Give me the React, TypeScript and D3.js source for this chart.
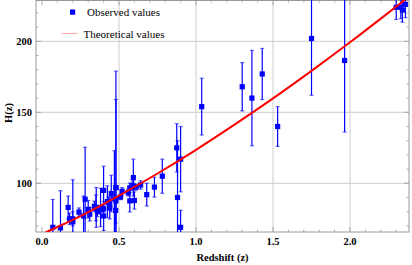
import React from "react";
import * as d3 from "d3";

// Observed H(z) data: redshift, value, error
const zObs = [0.07, 0.12, 0.17, 0.179, 0.199, 0.2, 0.27, 0.28, 0.352, 0.3802, 0.4, 0.4004, 0.4247, 0.4497, 0.47, 0.4783, 0.48, 0.48, 0.593, 0.68, 0.781, 0.875, 0.88, 0.9, 0.9, 1.037, 1.3, 1.363, 1.43, 1.53, 1.75, 1.965,
  0.24, 0.30, 0.31, 0.34, 0.35, 0.36, 0.38, 0.40, 0.43, 0.44, 0.44, 0.48, 0.51, 0.52, 0.56, 0.57, 0.57, 0.59, 0.60, 0.61, 0.64, 0.73, 2.30, 2.33, 2.34, 2.36];
const hObs = [69.0, 68.6, 83, 75, 75, 72.9, 77, 88.8, 83, 83, 95, 77, 87.1, 92.8, 89, 80.9, 97, 97, 104, 92, 105, 125, 90, 117, 69, 154, 168, 160, 177, 140, 202, 186.5,
  79.69, 81.7, 78.18, 83.8, 82.7, 79.94, 81.5, 82.04, 86.45, 82.6, 84.81, 87.79, 90.4, 94.35, 93.34, 87.6, 96.8, 98.48, 87.9, 97.3, 98.82, 97.3, 224, 224, 222, 226];
const errObs = [19.6, 26.2, 8, 4, 5, 29.6, 14, 36.6, 14, 13.5, 17, 10.2, 11.2, 12.9, 34, 9, 62, 82, 13, 8, 12, 17, 40, 23, 12, 20, 17, 33.6, 18, 14, 40, 50.4,
  2.99, 6.22, 4.74, 3.66, 9.1, 3.38, 1.9, 2.03, 3.97, 7.8, 1.83, 2.03, 1.9, 2.64, 2.3, 7.8, 3.4, 3.18, 6.1, 2.1, 2.98, 7.0, 8.6, 8, 8.5, 9.3];

// Theoretical curve
const zTheory = [-0.05, 0, 0.25, 0.5, 0.75, 1.0, 1.25, 1.5, 1.75, 2.0, 2.25, 2.4];
const hTheory = [61.3, 64.05, 76.9, 91.3, 106.9, 123.6, 141.3, 159.8, 179.2, 199.3, 220.2, 233.0];

const xTicks = [0.0, 0.5, 1.0, 1.5, 2.0];
const yTicks = [100, 150, 200];

const W = 412, H = 265;
const L = 36, R = 409, T = 0, B = 232;

export default function App() {
  const x = d3.scaleLinear().domain([-0.039, 2.383]).range([L, R]);
  const y = d3.scaleLinear().domain([65.7, 229.1]).range([B, T]);
  const xMinor = d3.range(0, 2.4, 0.1).filter(v => v >= -0.039 && v <= 2.383);
  const yMinor = d3.range(70, 230, 10);
  const line = d3.line<number>().x((_, i) => x(zTheory[i])).y(d => y(d)).curve(d3.curveMonotoneX);
  const serif = "Times New Roman, Liberation Serif, DejaVu Serif, serif";
  const blue = "#0000ff";
  return (
    <svg width={W} height={H} style={{ position: "absolute", left: 0, top: 0, background: "#fff" }}>
      <defs>
        <clipPath id="plot"><rect x={L} y={T} width={R - L} height={B - T} /></clipPath>
      </defs>
      {/* grid */}
      {xTicks.filter(v => v > 0).map(v => (
        <line key={"gx" + v} x1={x(v)} x2={x(v)} y1={T} y2={B} stroke="#cccccc" strokeWidth={1} />
      ))}
      {yTicks.map(v => (
        <line key={"gy" + v} x1={L} x2={R} y1={y(v)} y2={y(v)} stroke="#cccccc" strokeWidth={1} />
      ))}
      {/* minor ticks */}
      {xMinor.map((v, i) => {
        const major = Math.abs(v * 2 - Math.round(v * 2)) < 1e-6;
        const len = major ? 5 : 2.5;
        return (
          <g key={"xm" + i}>
            <line x1={x(v)} x2={x(v)} y1={B} y2={B - len} stroke="#999" strokeWidth={0.8} />
            <line x1={x(v)} x2={x(v)} y1={T} y2={T + len} stroke="#999" strokeWidth={0.8} />
          </g>
        );
      })}
      {yMinor.map((v, i) => {
        const major = v % 50 === 0;
        const len = major ? 5 : 2.5;
        return (
          <g key={"ym" + i}>
            <line x1={L} x2={L + len} y1={y(v)} y2={y(v)} stroke="#999" strokeWidth={0.8} />
            <line x1={R} x2={R - len} y1={y(v)} y2={y(v)} stroke="#999" strokeWidth={0.8} />
          </g>
        );
      })}
      {/* frame */}
      <rect x={L} y={T + 0.5} width={R - L} height={B - T - 0.5} fill="none" stroke="#999" strokeWidth={1} />
      <g clipPath="url(#plot)">
        {zObs.map((z, i) => {
          const cx = x(z);
          const y1 = y(hObs[i] + errObs[i]);
          const y0 = y(hObs[i] - errObs[i]);
          return (
            <g key={"e" + i}>
              <line x1={cx} x2={cx} y1={y1} y2={y0} stroke={blue} strokeWidth={1.2} />
              <line x1={cx - 2} x2={cx + 2} y1={y1} y2={y1} stroke={blue} strokeOpacity={0.6} strokeWidth={1.2} />
              <line x1={cx - 2} x2={cx + 2} y1={y0} y2={y0} stroke={blue} strokeOpacity={0.6} strokeWidth={1.2} />
            </g>
          );
        })}
        {zObs.map((z, i) => (
          <rect key={"p" + i} x={x(z) - 2.6} y={y(hObs[i]) - 2.6} width={5.2} height={5.2} fill={blue} />
        ))}
        <path d={line(hTheory) || ""} fill="none" stroke="#ff0000" strokeWidth={2} />
      </g>
      {/* legend */}
      <rect x={70} y={9.5} width={5.2} height={5.2} fill={blue} />
      <text x={87} y={15.5} fontFamily={serif} fontSize={11}>Observed values</text>
      <line x1={62} x2={78} y1={33.5} y2={33.5} stroke="#ffa8a8" strokeWidth={1} />
      <text x={83.5} y={37.5} fontFamily={serif} fontSize={11}>Theoretical values</text>
      {/* tick labels */}
      {xTicks.map(v => (
        <text key={"xl" + v} x={x(v)} y={245} textAnchor="middle" fontFamily={serif} fontSize={10.5} fontWeight="bold">{v.toFixed(1)}</text>
      ))}
      {yTicks.map(v => (
        <text key={"yl" + v} x={32} y={y(v) + 3.8} textAnchor="end" fontFamily={serif} fontSize={10.5} fontWeight="bold">{v}</text>
      ))}
      <text x={222.5} y={260.5} textAnchor="middle" fontFamily={serif} fontSize={10.5} fontWeight="bold">Redshift (z)</text>
      <text transform={`translate(11.5, ${113}) rotate(-90)`} textAnchor="middle" fontFamily={serif} fontSize={10.5} fontWeight="bold">H(z)</text>
    </svg>
  );
}
